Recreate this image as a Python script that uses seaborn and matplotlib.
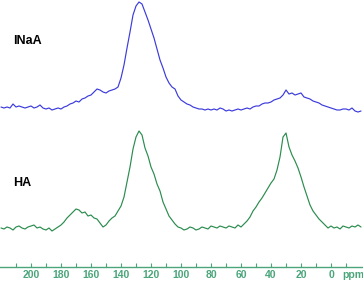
import numpy as np
import pandas as pd
import matplotlib
matplotlib.use("Agg")
import matplotlib.pyplot as plt
import seaborn as sns

# chemical shift grid (ppm), read every 2 ppm from 220 down to -20
ppm = list(range(220, -21, -2))

# INaA spectrum intensity (arbitrary units, above its baseline)
inaa = [3, 2, 3, 2, 6, 3, 4, 3, 2, 3,
        4, 2, 3, 5, 2, 1, 2, 0, 1, 2,
        1, 3, 4, 6, 7, 9, 8, 11, 12, 14,
        15, 18, 21, 20, 18, 17, 19, 20, 21, 23,
        32, 45, 62, 78, 95, 104, 108, 106, 98, 90,
        81, 72, 61, 50, 42, 33, 27, 23, 21, 14,
        10, 8, 6, 5, 3, 2, 1, 1, 0, 1,
        0, 1, 0, 2, 1, -1, 0, -1, 0, 1,
        0, 1, 2, 1, 3, 4, 4, 6, 7, 7,
        8, 10, 11, 12, 15, 20, 16, 17, 15, 16,
        17, 13, 12, 11, 9, 8, 7, 5, 4, 3,
        2, 1, 0, 0, 1, 1, 0, 2, -1, -2,
        -1]

# HA spectrum intensity (arbitrary units, above its baseline)
ha = [1, 0, 2, 1, -1, 2, 3, 1, 0, 2,
      3, 4, 1, 2, 0, -1, 1, -2, 0, 2,
      4, 7, 11, 14, 17, 20, 19, 16, 17, 13,
      14, 11, 10, 6, 2, 4, 8, 11, 13, 18,
      23, 32, 47, 62, 80, 92, 98, 94, 81, 73,
      62, 55, 45, 38, 27, 20, 13, 9, 5, 2,
      1, -1, 0, 2, 1, -1, 0, 2, 1, 0,
      3, 2, 1, 3, 2, 1, 3, 2, 1, 4,
      2, 5, 8, 12, 18, 22, 27, 31, 36, 41,
      46, 50, 59, 72, 92, 96, 82, 74, 68, 61,
      52, 42, 33, 24, 18, 14, 10, 7, 4, 1,
      3, 1, 2, 0, 3, 2, 1, 3, 2, 4,
      2]

sample_names = ["INaA", "HA"]
tick_values = [200, 180, 160, 140, 120, 100, 80, 60, 40, 20, 0]
tick_labels = [str(v) for v in tick_values]
axis_unit = "ppm"

sns.set_style("white")
plt.rcParams["font.family"] = ["Liberation Sans", "DejaVu Sans"]

W, H = 363, 282
fig = plt.figure(figsize=(W / 100, H / 100), dpi=100)
ax = fig.add_axes([0, 15 / H, 1, 267 / H])

blue = "#3b3bdc"
green = "#2a8c4e"
axis_col = "#4aa57a"

df_inaa = pd.DataFrame({"ppm": ppm, "I": np.array(inaa) + 157})
df_ha = pd.DataFrame({"ppm": ppm, "I": np.array(ha) + 38})

sns.lineplot(data=df_inaa, x="ppm", y="I", ax=ax, color=blue, lw=0.85,
             sort=False, estimator=None)
sns.lineplot(data=df_ha, x="ppm", y="I", ax=ax, color=green, lw=0.85,
             sort=False, estimator=None)

ax.set_xlim(220.67, -21.33)
ax.set_ylim(0, 267)

for s in ["top", "left", "right"]:
    ax.spines[s].set_visible(False)
ax.spines["bottom"].set_color(axis_col)
ax.spines["bottom"].set_linewidth(1.0)

ax.set_xticks(tick_values)
ax.set_xticklabels(tick_labels, fontsize=7.5, fontweight="bold", color=axis_col)
ax.set_xticks(list(range(210, -20, -10)), minor=True)
ax.tick_params(axis="x", which="both", direction="in", length=3, width=0.8,
               color=axis_col, pad=2.5, bottom=True)
ax.set_yticks([])
ax.set_xlabel("")
ax.set_ylabel("")

ax.text(-7.5, -8.5, axis_unit, fontsize=7.5, fontweight="bold", color=axis_col,
        ha="left", va="center", clip_on=False)

ax.text(212, 226, sample_names[0], fontsize=9, fontweight="bold",
        color="black", ha="left", va="center")
ax.text(212, 84, sample_names[1], fontsize=9, fontweight="bold",
        color="black", ha="left", va="center")

fig.savefig("out.png", dpi=100)
